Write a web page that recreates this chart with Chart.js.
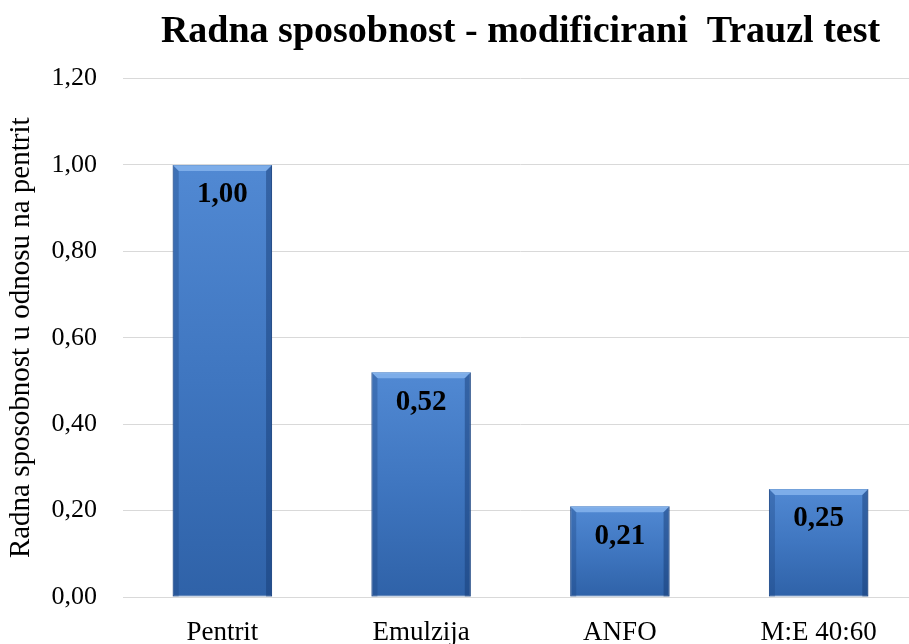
<!DOCTYPE html>
<html>
<head>
<meta charset="utf-8">
<script src="https://cdn.jsdelivr.net/npm/chart.js@4.4.1/dist/chart.umd.min.js"></script>
<style>
  html, body { margin: 0; padding: 0; background: #fff; overflow: hidden; }
  #wrap { width: 918px; height: 644px; }
</style>
</head>
<body>
<div id="wrap"><canvas id="chart"></canvas></div>
<script>
// ---------- Data ----------
const categories = ['Pentrit', 'Emulzija', 'ANFO', 'M:E 40:60'];
const values     = [1.00, 0.52, 0.21, 0.25];
const yTicks     = [0, 0.2, 0.4, 0.6, 0.8, 1.0, 1.2];

const chartTitle = 'Radna sposobnost - modificirani  Trauzl test';
const yTitle     = 'Radna sposobnost u odnosu na pentrit';

const SERIF = '"Liberation Serif", "Times New Roman", serif';
const fmt = v => v.toFixed(2).replace('.', ',');

// per-bar vertical gradient (top lighter, bottom darker)
function barFill (ctx) {
  const chart = ctx.chart;
  const y = chart.scales && chart.scales.y;
  if (!y || ctx.raw == null) return '#4679c2';
  const top = y.getPixelForValue(ctx.raw);
  const bottom = y.getPixelForValue(0);
  if (!isFinite(top) || !isFinite(bottom) || top === bottom) return '#4679c2';
  const g = chart.ctx.createLinearGradient(0, top, 0, bottom);
  g.addColorStop(0, '#5189d3');
  g.addColorStop(0.5, '#3f76c0');
  g.addColorStop(1, '#2f62a8');
  return g;
}

// bevel edges drawn over each bar
const bevel = {
  id: 'bevel',
  afterDatasetsDraw (chart) {
    const c = chart.ctx;
    chart.getDatasetMeta(0).data.forEach(bar => {
      const l = bar.x - bar.width / 2, r = bar.x + bar.width / 2;
      const t = bar.y, b = bar.base, d = 6;
      c.save();
      // top
      c.fillStyle = 'rgba(140,185,240,0.75)';
      c.beginPath(); c.moveTo(l, t); c.lineTo(r, t); c.lineTo(r - d, t + d); c.lineTo(l + d, t + d); c.closePath(); c.fill();
      // left
      c.fillStyle = 'rgba(30,70,130,0.35)';
      c.beginPath(); c.moveTo(l, t); c.lineTo(l + d, t + d); c.lineTo(l + d, b); c.lineTo(l, b); c.closePath(); c.fill();
      // right
      c.fillStyle = 'rgba(20,55,110,0.45)';
      c.beginPath(); c.moveTo(r, t); c.lineTo(r - d, t + d); c.lineTo(r - d, b); c.lineTo(r, b); c.closePath(); c.fill();
      c.restore();
    });
  }
};

// value labels inside the top of each bar
const valueLabels = {
  id: 'valueLabels',
  afterDatasetsDraw (chart) {
    const c = chart.ctx;
    c.save();
    c.font = 'bold 29px ' + SERIF;
    c.fillStyle = '#000';
    c.textAlign = 'center';
    c.textBaseline = 'middle';
    chart.getDatasetMeta(0).data.forEach((bar, i) => {
      c.fillText(fmt(values[i]), bar.x, bar.y + 30);
    });
    c.restore();
  }
};

new Chart(document.getElementById('chart'), {
  type: 'bar',
  data: {
    labels: categories,
    datasets: [{
      data: values,
      backgroundColor: barFill,
      borderColor: '#2b5898',
      borderWidth: 1,
      borderSkipped: false,
      barPercentage: 0.5,
      categoryPercentage: 1.0
    }]
  },
  options: {
    responsive: true,
    maintainAspectRatio: false,
    animation: false,
    layout: { padding: { left: 0, right: 0, top: 0, bottom: 0 } },
    plugins: {
      legend: { display: false },
      tooltip: { enabled: false },
      title: {
        display: true,
        fullSize: false,
        text: chartTitle,
        color: '#000',
        font: { family: SERIF, size: 38, weight: 'bold' },
        padding: { top: 9, bottom: 24 }
      }
    },
    scales: {
      x: {
        grid: { display: false },
        border: { color: '#d9d9d9' },
        ticks: { color: '#000', font: { family: SERIF, size: 27 }, padding: 12, maxRotation: 0 },
        afterFit: s => { s.height = 47; }
      },
      y: {
        min: 0,
        max: 1.2,
        afterBuildTicks: s => { s.ticks = yTicks.map(v => ({ value: v })); },
        grid: { color: '#d9d9d9', lineWidth: 1, drawTicks: false },
        border: { display: false },
        ticks: {
          color: '#000',
          font: { family: SERIF, size: 26 },
          padding: 26,
          callback: v => fmt(v)
        },
        title: {
          display: true,
          text: yTitle,
          color: '#000',
          font: { family: SERIF, size: 29 },
          padding: { top: 4, bottom: 0 }
        },
        afterFit: s => { s.width = 123; }
      }
    }
  },
  plugins: [bevel, valueLabels]
});
</script>
</body>
</html>
